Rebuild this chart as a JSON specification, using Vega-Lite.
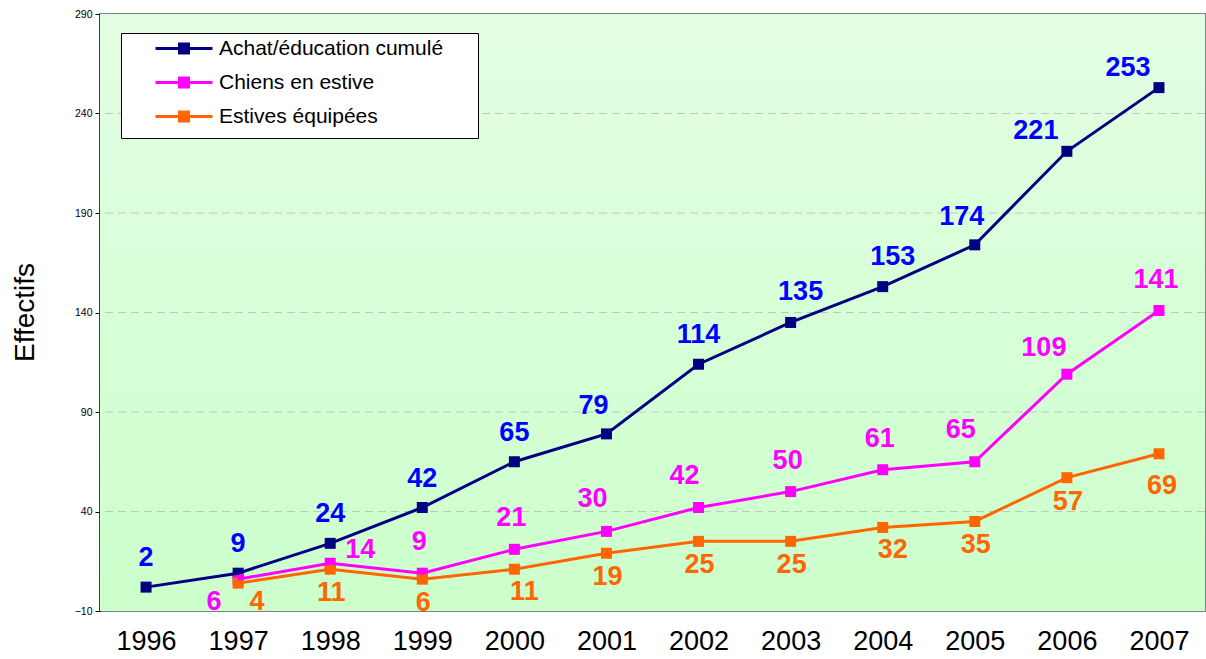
{
  "$schema": "https://vega.github.io/schema/vega-lite/v6.json",
  "width": 1105,
  "height": 597,
  "autosize": {"type": "none"},
  "padding": {"left": 100, "top": 14, "right": 1, "bottom": 48},
  "background": "white",
  "config": {
    "font": "Liberation Sans",
    "view": {"stroke": "#808080", "strokeWidth": 2},
    "axisY": {"values": [-10, 40, 90, 140, 190, 240, 290], "title": "Effectifs",
      "titleFontSize": 28, "titleFontWeight": "normal", "titleColor": "black", "titleFont": "Liberation Sans",
      "titleX": -75, "titleY": 298, "titleBaseline": "middle", "titleAlign": "center", "titleAngle": -90,
      "labelFontSize": 10.5, "labelColor": "black", "labelPadding": 3,
      "tickSize": 5, "tickColor": "black", "domainColor": "black", "domainWidth": 2,
      "grid": false}
  },
  "layer": [
    {"data": {"values": [{"bg": "fond"}]},
     "mark": {"type": "rect", "color": {"gradient": "linear", "x1": 0, "y1": 0, "x2": 0, "y2": 1,
        "stops": [{"offset": 0, "color": "#e2fee2"}, {"offset": 1, "color": "#ccffcc"}]}},
     "encoding": {}},
    {"data": {"values": [{"g": 40}, {"g": 90}, {"g": 140}, {"g": 190}, {"g": 240}]},
     "mark": {"type": "rule", "color": "#c4c4c4", "strokeWidth": 1, "strokeDash": [8, 5]},
     "encoding": {"y": {"field": "g", "type": "quantitative", "title": "Effectifs",
       "scale": {"domain": [-10, 290], "nice": false, "zero": false},
       "axis": {"values": [-10, 40, 90, 140, 190, 240, 290], "title": "Effectifs"}}}},
    {"data": {"values": [
      {"year": "1996", "series": "Achat/éducation cumulé", "value": 2},
      {"year": "1997", "series": "Achat/éducation cumulé", "value": 9},
      {"year": "1998", "series": "Achat/éducation cumulé", "value": 24},
      {"year": "1999", "series": "Achat/éducation cumulé", "value": 42},
      {"year": "2000", "series": "Achat/éducation cumulé", "value": 65},
      {"year": "2001", "series": "Achat/éducation cumulé", "value": 79},
      {"year": "2002", "series": "Achat/éducation cumulé", "value": 114},
      {"year": "2003", "series": "Achat/éducation cumulé", "value": 135},
      {"year": "2004", "series": "Achat/éducation cumulé", "value": 153},
      {"year": "2005", "series": "Achat/éducation cumulé", "value": 174},
      {"year": "2006", "series": "Achat/éducation cumulé", "value": 221},
      {"year": "2007", "series": "Achat/éducation cumulé", "value": 253},
      {"year": "1997", "series": "Chiens en estive", "value": 6},
      {"year": "1998", "series": "Chiens en estive", "value": 14},
      {"year": "1999", "series": "Chiens en estive", "value": 9},
      {"year": "2000", "series": "Chiens en estive", "value": 21},
      {"year": "2001", "series": "Chiens en estive", "value": 30},
      {"year": "2002", "series": "Chiens en estive", "value": 42},
      {"year": "2003", "series": "Chiens en estive", "value": 50},
      {"year": "2004", "series": "Chiens en estive", "value": 61},
      {"year": "2005", "series": "Chiens en estive", "value": 65},
      {"year": "2006", "series": "Chiens en estive", "value": 109},
      {"year": "2007", "series": "Chiens en estive", "value": 141},
      {"year": "1997", "series": "Estives équipées", "value": 4},
      {"year": "1998", "series": "Estives équipées", "value": 11},
      {"year": "1999", "series": "Estives équipées", "value": 6},
      {"year": "2000", "series": "Estives équipées", "value": 11},
      {"year": "2001", "series": "Estives équipées", "value": 19},
      {"year": "2002", "series": "Estives équipées", "value": 25},
      {"year": "2003", "series": "Estives équipées", "value": 25},
      {"year": "2004", "series": "Estives équipées", "value": 32},
      {"year": "2005", "series": "Estives équipées", "value": 35},
      {"year": "2006", "series": "Estives équipées", "value": 57},
      {"year": "2007", "series": "Estives équipées", "value": 69}
    ]},
    "encoding": {
      "x": {"field": "year", "type": "ordinal", "title": null,
        "axis": {"labelAngle": 0, "labelFontSize": 27, "labelColor": "black", "labelFont": "Liberation Sans",
          "domain": false, "ticks": false, "labelPadding": 17, "grid": false}},
      "y": {"field": "value", "type": "quantitative", "title": "Effectifs",
        "scale": {"domain": [-10, 290], "nice": false, "zero": false},
        "axis": {"values": [-10, 40, 90, 140, 190, 240, 290], "title": "Effectifs"}}
    },
    "layer": [
      {"mark": {"type": "point", "shape": "square", "filled": true, "size": 121, "opacity": 1},
       "encoding": {"color": {"field": "series", "type": "nominal",
         "scale": {"domain": ["Achat/éducation cumulé", "Chiens en estive", "Estives équipées"], "range": ["#000080", "#ff00ff", "#ff6600"]},
         "legend": {"title": "I", "titleOrient": "right", "titleFontSize": 52, "titlePadding": 15,
           "titleColor": "rgba(0,0,0,0)", "titleOpacity": 0, "titleBaseline": "top",
           "orient": "none", "legendX": 21, "legendY": 19,
           "fillColor": "white", "strokeColor": "black", "padding": 5, "cornerRadius": 0,
           "labelFontSize": 21, "labelColor": "black", "labelFont": "Liberation Sans", "labelOffset": 72, "labelLimit": 400,
           "rowPadding": 12,
           "symbolType": "M1.9,-0.15H7.6V0.15H1.9Z M4.15,-0.6H5.35V0.6H4.15Z",
           "symbolSize": 400, "symbolStrokeWidth": 0, "symbolOpacity": 1}}}},
      {"mark": {"type": "line", "strokeWidth": 3},
       "encoding": {"color": {"field": "series", "type": "nominal"}}},

      {"transform": [{"filter": {"field": "series", "equal": "Achat/éducation cumulé"}}, {"filter": {"field": "year", "oneOf": ["1996", "1997", "1998", "1999", "2000", "2002"]}}],
       "mark": {"type": "text", "fontSize": 27, "fontWeight": "bold", "color": "#0000ff", "baseline": "middle", "dx": 0, "dy": -29},
       "encoding": {"text": {"field": "value"}}},
      {"transform": [{"filter": {"field": "series", "equal": "Achat/éducation cumulé"}}, {"filter": {"field": "year", "oneOf": ["2003", "2004"]}}],
       "mark": {"type": "text", "fontSize": 27, "fontWeight": "bold", "color": "#0000ff", "baseline": "middle", "dx": 10, "dy": -30},
       "encoding": {"text": {"field": "value"}}},
      {"transform": [{"filter": {"field": "series", "equal": "Achat/éducation cumulé"}}, {"filter": {"field": "year", "oneOf": ["2001", "2005"]}}],
       "mark": {"type": "text", "fontSize": 27, "fontWeight": "bold", "color": "#0000ff", "baseline": "middle", "dx": -13, "dy": -28},
       "encoding": {"text": {"field": "value"}}},
      {"transform": [{"filter": {"field": "series", "equal": "Achat/éducation cumulé"}}, {"filter": {"field": "year", "oneOf": ["2006", "2007"]}}],
       "mark": {"type": "text", "fontSize": 27, "fontWeight": "bold", "color": "#0000ff", "baseline": "middle", "dx": -31, "dy": -20},
       "encoding": {"text": {"field": "value"}}},

      {"transform": [{"filter": {"field": "series", "equal": "Chiens en estive"}}, {"filter": {"field": "year", "oneOf": ["1997"]}}],
       "mark": {"type": "text", "fontSize": 27, "fontWeight": "bold", "color": "#ff00ff", "baseline": "middle", "dx": -24, "dy": 23},
       "encoding": {"text": {"field": "value"}}},
      {"transform": [{"filter": {"field": "series", "equal": "Chiens en estive"}}, {"filter": {"field": "year", "oneOf": ["1998"]}}],
       "mark": {"type": "text", "fontSize": 27, "fontWeight": "bold", "color": "#ff00ff", "baseline": "middle", "dx": 30, "dy": -13},
       "encoding": {"text": {"field": "value"}}},
      {"transform": [{"filter": {"field": "series", "equal": "Chiens en estive"}}, {"filter": {"field": "year", "oneOf": ["1999", "2000", "2003", "2004", "2007"]}}],
       "mark": {"type": "text", "fontSize": 27, "fontWeight": "bold", "color": "#ff00ff", "baseline": "middle", "dx": -3, "dy": -31},
       "encoding": {"text": {"field": "value"}}},
      {"transform": [{"filter": {"field": "series", "equal": "Chiens en estive"}}, {"filter": {"field": "year", "oneOf": ["2001", "2002", "2005"]}}],
       "mark": {"type": "text", "fontSize": 27, "fontWeight": "bold", "color": "#ff00ff", "baseline": "middle", "dx": -14, "dy": -32},
       "encoding": {"text": {"field": "value"}}},
      {"transform": [{"filter": {"field": "series", "equal": "Chiens en estive"}}, {"filter": {"field": "year", "oneOf": ["2006"]}}],
       "mark": {"type": "text", "fontSize": 27, "fontWeight": "bold", "color": "#ff00ff", "baseline": "middle", "dx": -23, "dy": -26},
       "encoding": {"text": {"field": "value"}}},

      {"transform": [{"filter": {"field": "series", "equal": "Estives équipées"}}, {"filter": {"field": "year", "oneOf": ["1997"]}}],
       "mark": {"type": "text", "fontSize": 27, "fontWeight": "bold", "color": "#ff6600", "baseline": "middle", "dx": 19, "dy": 19},
       "encoding": {"text": {"field": "value"}}},
      {"transform": [{"filter": {"field": "series", "equal": "Estives équipées"}}, {"filter": {"field": "year", "oneOf": ["1998", "1999", "2001", "2002", "2003", "2005", "2006"]}}],
       "mark": {"type": "text", "fontSize": 27, "fontWeight": "bold", "color": "#ff6600", "baseline": "middle", "dx": 1, "dy": 24},
       "encoding": {"text": {"field": "value"}}},
      {"transform": [{"filter": {"field": "series", "equal": "Estives équipées"}}, {"filter": {"field": "year", "oneOf": ["2000", "2004"]}}],
       "mark": {"type": "text", "fontSize": 27, "fontWeight": "bold", "color": "#ff6600", "baseline": "middle", "dx": 10, "dy": 23},
       "encoding": {"text": {"field": "value"}}},
      {"transform": [{"filter": {"field": "series", "equal": "Estives équipées"}}, {"filter": {"field": "year", "oneOf": ["2007"]}}],
       "mark": {"type": "text", "fontSize": 27, "fontWeight": "bold", "color": "#ff6600", "baseline": "middle", "dx": 3, "dy": 32},
       "encoding": {"text": {"field": "value"}}}
    ]}
  ]
}
